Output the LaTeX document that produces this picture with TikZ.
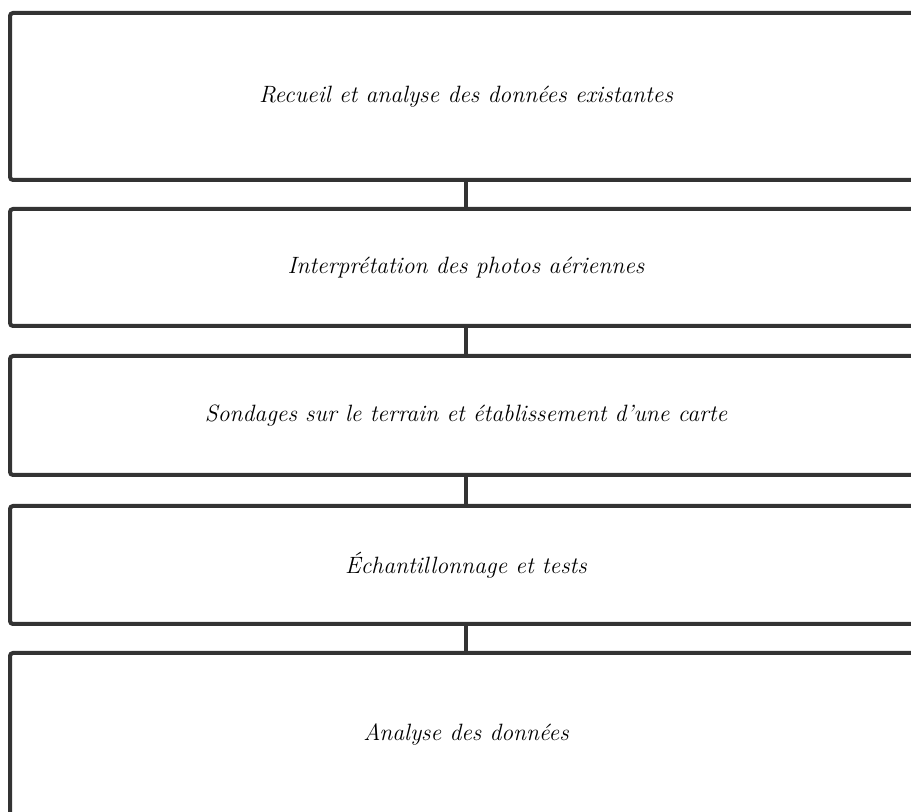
\documentclass[tikz,border=0pt]{standalone}
\usepackage{tikz}
\usetikzlibrary{positioning}

\begin{document}
\begin{tikzpicture}[
    x=0.5pt, y=-0.5pt,
    font=\fontsize{11.8}{14}\selectfont\itshape,
    etape/.style={rectangle, rounded corners=1.5pt, draw=black!80, line width=2pt,
                  minimum width=456pt, align=center, inner sep=0pt},
    lien/.style={draw=black!80, line width=2pt}
]

% --- Cadre de la page ---
\useasboundingbox (0,0) rectangle (911,812);

% --- Etapes ---
\node[etape, minimum height=83.5pt] (recueil) at (466,96.5) {Recueil et analyse des données existantes};
\node[etape, minimum height=58.5pt] (photos) at (466,267.5) {Interprétation des photos aériennes};
\node[etape, minimum height=59.5pt] (sondages) at (466,415.5) {Sondages sur le terrain et établissement d'une carte};
\node[etape, minimum height=59pt] (tests) at (466,565) {Échantillonnage et tests};
\node[etape, minimum height=81pt] (analyse) at (466,734) {Analyse des données};

% --- Liaisons ---
\draw[lien] (recueil) -- (photos);
\draw[lien] (photos) -- (sondages);
\draw[lien] (sondages) -- (tests);
\draw[lien] (tests) -- (analyse);

\end{tikzpicture}
\end{document}
